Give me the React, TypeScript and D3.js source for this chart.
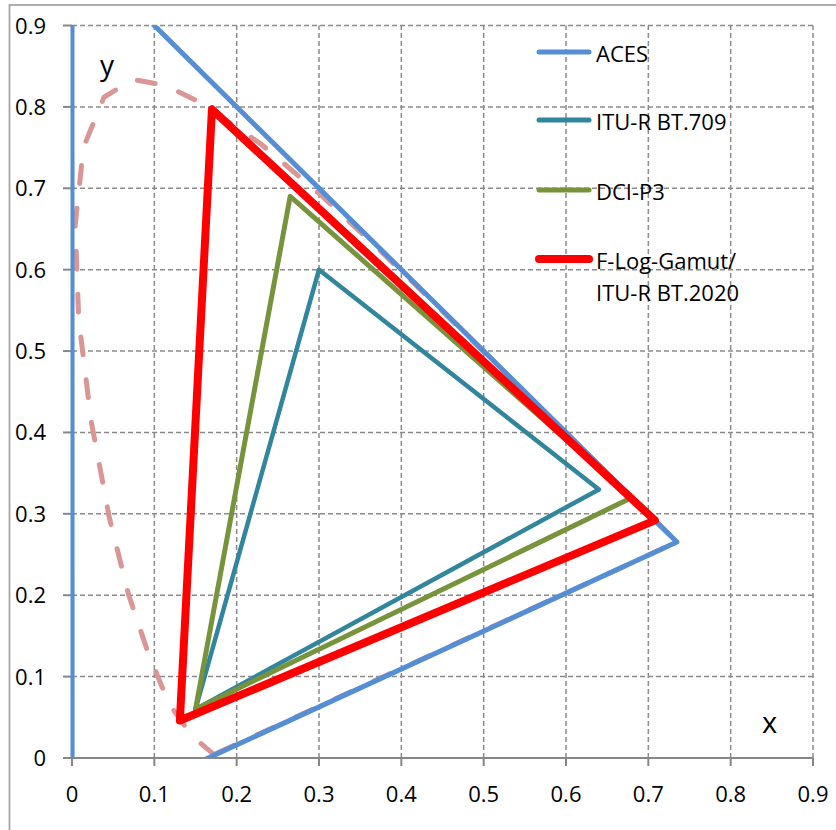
import React from 'react'
import * as d3 from 'd3'

// gamut triangles, [x, y] chromaticity corners (R, G, B)
const acesPts: [number, number][] = [[0.7347, 0.2653], [0.0, 1.0], [0.0001, -0.077]]
const bt709Pts: [number, number][] = [[0.64, 0.33], [0.3, 0.6], [0.15, 0.06]]
const p3Pts: [number, number][] = [[0.68, 0.32], [0.265, 0.69], [0.15, 0.06]]
const bt2020Pts: [number, number][] = [[0.708, 0.292], [0.17, 0.797], [0.131, 0.046]]

// spectrum locus (dashed outline)
const locusX = [0.1741, 0.1714, 0.1566, 0.144, 0.1241, 0.1096, 0.0913, 0.0687, 0.0454, 0.0235, 0.0082, 0.0039, 0.0139, 0.0389, 0.0743, 0.1142, 0.1547, 0.2296, 0.3016, 0.3731, 0.4441, 0.5125, 0.5752, 0.627, 0.6915, 0.719, 0.7347]
const locusY = [0.005, 0.0051, 0.0177, 0.0297, 0.0578, 0.0868, 0.1327, 0.2007, 0.295, 0.4127, 0.5384, 0.6548, 0.7502, 0.812, 0.8338, 0.8262, 0.8059, 0.7543, 0.6923, 0.6245, 0.5547, 0.4866, 0.4242, 0.3725, 0.3083, 0.2809, 0.2653]

const ticks = [0, 0.1, 0.2, 0.3, 0.4, 0.5, 0.6, 0.7, 0.8, 0.9]
const tickLabels = ['0', '0.1', '0.2', '0.3', '0.4', '0.5', '0.6', '0.7', '0.8', '0.9']

const legendNames = [['ACES'], ['ITU-R BT.709'], ['DCI-P3'], ['F-Log-Gamut/', 'ITU-R BT.2020']]

const series = [
  { pts: acesPts, color: '#558ED5', width: 5 },
  { pts: bt709Pts, color: '#31859C', width: 4.5 },
  { pts: p3Pts, color: '#77933C', width: 5 },
  { pts: bt2020Pts, color: '#FF0000', width: 8 },
]

const font = '"Open Sans", sans-serif'
const grid = '#8a8a8a'

export default function App() {
  const x = d3.scaleLinear().domain([0, 0.9]).range([72, 813])
  const y = d3.scaleLinear().domain([0, 0.9]).range([758, 25.5])

  const closed = d3.line<[number, number]>()
    .x(d => x(d[0]))
    .y(d => y(d[1]))
    .curve(d3.curveLinearClosed)

  const locus: [number, number][] = locusX.map((v, i) => [v, locusY[i]])

  const legendY = [52, 120, 190, 259]

  return (
    <svg width={836} height={830} style={{ position: 'absolute', left: 0, top: 0 }} fontFamily={font}>
      <rect x={0} y={0} width={836} height={830} fill='#fff' />
      <rect x={9.5} y={5} width={900} height={900} fill='none' stroke='#a6a6a6' strokeWidth={1.8} />
      <defs>
        <clipPath id='plot'>
          <rect x={x(0) - 1.5} y={y(0.9)} width={x(0.9) - x(0) + 1.5} height={y(0) - y(0.9)} />
        </clipPath>
      </defs>

      {/* grid */}
      {ticks.slice(1).map(t => (
        <g key={'g' + t}>
          <line x1={x(t)} x2={x(t)} y1={y(0)} y2={y(0.9)} stroke={grid} strokeWidth={1.5} strokeDasharray='5 3' />
          <line x1={x(0)} x2={x(0.9)} y1={y(t)} y2={y(t)} stroke={grid} strokeWidth={1.5} strokeDasharray='5 3' />
        </g>
      ))}

      {/* axes */}
      <line x1={x(0)} x2={x(0.9)} y1={y(0)} y2={y(0)} stroke='#868686' strokeWidth={2} />
      <line x1={x(0)} x2={x(0)} y1={y(0)} y2={y(0.9)} stroke='#868686' strokeWidth={2} />
      {ticks.map((t, i) => (
        <g key={'t' + t}>
          <line x1={x(t)} x2={x(t)} y1={y(0)} y2={y(0) + 8} stroke='#868686' strokeWidth={2} />
          <line x1={x(0) - 9} x2={x(0)} y1={y(t)} y2={y(t)} stroke='#868686' strokeWidth={2} />
          <text x={x(t)} y={802} fontSize={22} textAnchor='middle' fill='#000'>{tickLabels[i]}</text>
          <text x={46} y={y(t) + 8} fontSize={22} textAnchor='end' fill='#000'>{tickLabels[i]}</text>
        </g>
      ))}

      <g clipPath='url(#plot)'>
        <path d={closed(locus) || ''} fill='none' stroke='#D99694' strokeWidth={5}
          strokeDasharray='18 25' strokeLinecap='round' />
        {series.map((s, i) => (
          <path key={i} d={closed(s.pts) || ''} fill='none' stroke={s.color} strokeWidth={s.width}
            strokeLinejoin='round' />
        ))}
      </g>

      {/* axis letters */}
      <text x={100} y={75} fontSize={28} fill='#000'>y</text>
      <text x={762} y={733} fontSize={29} fill='#000'>x</text>

      {/* legend */}
      {series.map((s, i) => (
        <g key={'l' + i}>
          <line x1={539} x2={589} y1={legendY[i]} y2={legendY[i]} stroke={s.color}
            strokeWidth={i === 3 ? 8 : 5} strokeLinecap='round' />
          {legendNames[i].map((n, j) => (
            <text key={j} x={596} y={legendY[i] + 9.5 + j * 32} fontSize={22} fill='#000'>{n}</text>
          ))}
        </g>
      ))}
    </svg>
  )
}
